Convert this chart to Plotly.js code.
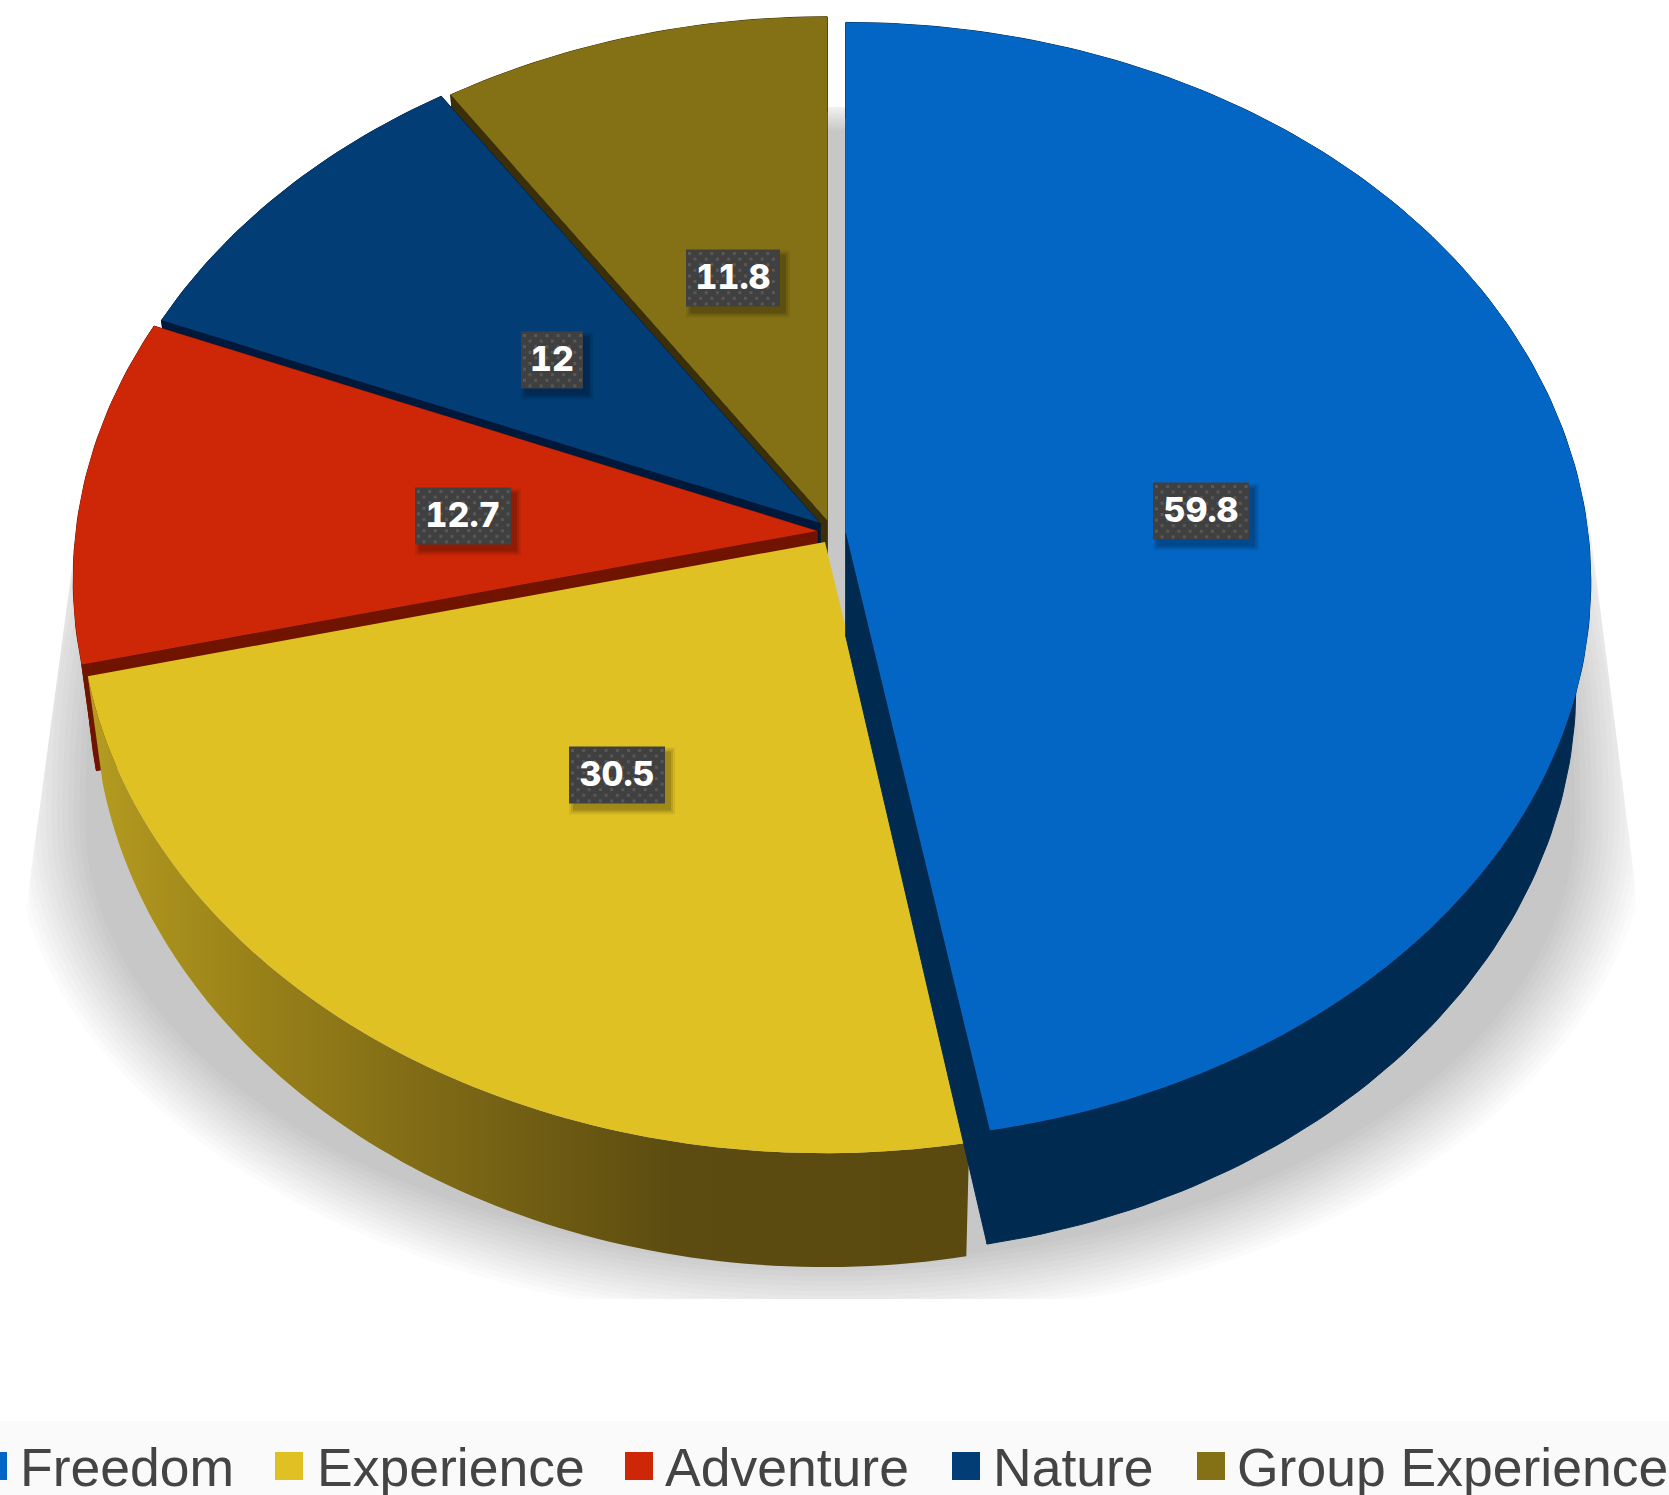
<!DOCTYPE html>
<html><head><meta charset="utf-8">
<script src="https://cdn.plot.ly/plotly-3.0.1.min.js"></script>
<style>html,body{margin:0;padding:0;background:#fff;overflow:hidden}#c{width:1669px;height:1495px}
#c .textpoint text{font-variant-numeric:tabular-nums;font-feature-settings:"tnum" 1}</style>
</head><body><div id="c"></div>
<script>
// ---- data ----
const categories = ["Freedom","Experience","Adventure","Nature","Group Experience"];
const values = [59.8,30.5,12.7,12,11.8];
const valueLabels = ["59.8","30.5","12.7","12","11.8"];
// ---- styles ----
const topColors = ["#0466c4","#e0c124","#cd2707","#023d75","#847115"];
const wallColors = ["#002a50","#5a4a10","#701400","#00183a","#3a2f08"];
const apexX = [846,825,817,820,827];
const apexY = [533,542,531,523,520];
const radiusY = [555,558,555,549,547];
const radiusX = [742,743,741,736,731];
const tilt = 0.087, depth = 104, taper = 0.98;
const labelX = [1201,617,463,552,733];
const labelY = [511,775,516,360,278];
const labelW = [96,96,96,62,94];
const labelH = 57;
const textDrop = 2;
const swatchX = [-7,289,639,966,1211];
const legendTextX = [20,317,665,993,1237];
const legendY = 1466;
const legendTextY = 1473;
const paintOrder = [4,3,2,1,0];

const total = values.reduce((a,b)=>a+b,0);
const starts = []; let acc = 0;
values.forEach(v=>{starts.push(acc/total*2*Math.PI); acc+=v;});

function topPoint(i,th){
  const u=Math.sin(th), v=Math.cos(th), w=1+tilt*v;
  return {x:apexX[i]+radiusX[i]*u/w, y:apexY[i]-radiusY[i]*v/w, w};
}
function lowPoint(i,p){
  return {x:apexX[i]+(p.x-apexX[i])*taper, y:p.y+depth/p.w};
}
function arc(i){
  const a=starts[i], b=a+values[i]/total*2*Math.PI, n=Math.ceil((b-a)/(Math.PI/180)), out=[];
  for(let j=0;j<=n;j++) out.push(topPoint(i,a+(b-a)*j/n));
  return out;
}
const traces=[];
const base={type:'scatter',hoverinfo:'skip',showlegend:false,xaxis:'x',yaxis:'y'};
const poly=(pts,extra)=>({...base,x:pts.map(p=>p.x),y:pts.map(p=>p.y),mode:'none',fill:'toself',...extra});

// soft shadow under the pie, cut off by a trapezoid
const shadowLayers=14;
for(let l=0;l<shadowLayers;l++){
  const t=1-l/(shadowLayers-1);
  const a=745+t*73, bTop=690+t*30, bBot=442+t*63, xs=[], ys=[];
  for(let d=0;d<360;d+=2){
    const r=d*Math.PI/180, s=Math.sin(r), c=Math.cos(r), up=c<0;
    const p=up?0.85:1;
    let y=820+(up?-bTop:bBot)*Math.pow(Math.abs(c),p);
    y=Math.min(1299,Math.max(107,y));
    let x=830+a*Math.sign(s)*Math.pow(Math.abs(s),p);
    x=Math.max(73-0.135*(y-560),Math.min(1578+0.127*(y-433),x));
    xs.push(x);ys.push(y);
  }
  traces.push({...base,x:xs,y:ys,mode:'none',fill:'toself',fillcolor:'rgba(0,0,0,0.0157)'});
}

// walls + tops
paintOrder.forEach(i=>{
  const ar=arc(i), lo=ar.map(p=>lowPoint(i,p));
  const A={x:apexX[i],y:apexY[i],w:1}, AL=lowPoint(i,A);
  const first=ar[0], last=ar[ar.length-1], firstL=lo[0], lastL=lo[lo.length-1];
  const band=[...ar,...lo.slice().reverse()];
  if(i===1){
    traces.push(poly(band,{fillcolor:wallColors[i],
      fillgradient:{type:'horizontal',start:85,stop:900,colorscale:[[0,'#b59c20'],[0.2,'#9a8219'],[0.45,'#7c6815'],[0.72,'#5c4c10'],[1,'#5a4a10']]}}));
  }else{
    const seam={mode:'lines',line:{color:wallColors[i],width:1},fillcolor:wallColors[i]};
    traces.push(poly([...band,ar[0]],seam));
    traces.push(poly([A,first,firstL,AL,A],seam));
    traces.push(poly([A,last,lastL,AL,A],seam));
  }
  traces.push(poly([A,...ar],{name:categories[i],fillcolor:topColors[i]}));
});

// value labels: drop shadow, box, dots, text
const rect=(cx,cy,w,h)=>({x:[cx-w/2,cx+w/2,cx+w/2,cx-w/2,cx-w/2],y:[cy-h/2,cy-h/2,cy+h/2,cy+h/2,cy-h/2]});
values.forEach((v,i)=>{
  [[10,.07],[6,.1],[2,.14]].forEach(([g,al])=>{
    traces.push({...base,...rect(labelX[i]+5,labelY[i]+6,labelW[i]+g,labelH+g),mode:'none',fill:'toself',fillcolor:`rgba(0,0,0,${al})`});
  });
  traces.push({...base,...rect(labelX[i],labelY[i],labelW[i],labelH),mode:'none',fill:'toself',fillcolor:'#404040'});
  const dx=[],dy=[];
  let row=0;
  for(let y=labelY[i]-labelH/2+4;y<labelY[i]+labelH/2-2;y+=5.6,row++){
    for(let x=labelX[i]-labelW[i]/2+(row%2?9:3.5);x<labelX[i]+labelW[i]/2-1;x+=11.2){dx.push(x);dy.push(y);}
  }
  traces.push({...base,x:dx,y:dy,mode:'markers',marker:{symbol:'square',size:3,color:'rgba(255,255,255,0.13)',line:{width:0}}});
});
traces.push({...base,x:labelX,y:labelY.map(y=>y+textDrop),text:valueLabels,mode:'text',textposition:'middle center',
  textfont:{family:'Inter, sans-serif',size:34,color:'#ffffff',weight:800}});

// legend row
traces.push({...base,x:swatchX,y:categories.map(()=>legendY),mode:'markers',
  marker:{symbol:'square',size:28,color:topColors,line:{width:0}}});
traces.push({...base,x:legendTextX,y:categories.map(()=>legendTextY),text:categories,mode:'text',textposition:'middle right',
  textfont:{family:'"Liberation Sans", Arial, sans-serif',size:53.5,color:'#444444'}});

const hidden={visible:false,fixedrange:true,showgrid:false,zeroline:false};
const layout={
  width:1669,height:1495,margin:{l:0,r:0,t:0,b:0},
  paper_bgcolor:'#ffffff',plot_bgcolor:'#ffffff',showlegend:false,
  xaxis:{...hidden,range:[0,1669]},
  yaxis:{...hidden,range:[1495,0]},
  shapes:[{type:'rect',layer:'below',xref:'x',yref:'y',x0:0,x1:1669,y0:1421,y1:1495,fillcolor:'#fafafa',line:{width:0}}]
};
Plotly.newPlot('c',traces,layout,{displayModeBar:false,staticPlot:true});
</script></body></html>
